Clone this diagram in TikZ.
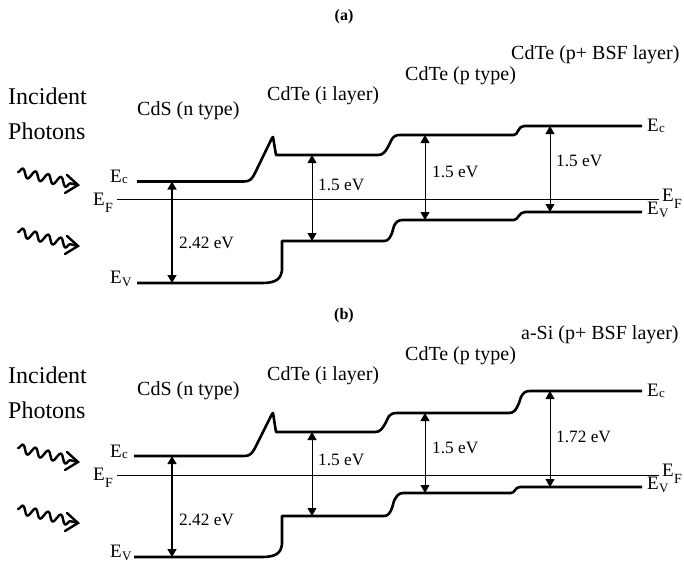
\documentclass[tikz,border=0pt]{standalone}
\usepackage{fontspec}
\setmainfont{Liberation Serif}
\usetikzlibrary{arrows.meta,decorations.pathmorphing,calc}
\newcommand{\Ec}{E\kern0.2pt\raisebox{-1.5pt}{\fontsize{13}{13}\selectfont c}}
\newcommand{\Ev}{E\kern0.2pt\raisebox{-3pt}{\fontsize{13}{13}\selectfont V}}
\newcommand{\Ef}{E\kern0.2pt\raisebox{-7pt}{\fontsize{14}{14}\selectfont F}}
\begin{document}
\begin{tikzpicture}[x=1pt,y=-1pt,
  band/.style={line width=2.6pt,line join=round},
  fermi/.style={line width=0.9pt},
  gap/.style={line width=0.9pt,{Triangle[length=8pt,width=9pt]}-{Triangle[length=8pt,width=9pt]}},
  gapthick/.style={gap,line width=1.3pt},
  wave/.style={line width=2.4pt,line cap=round,line join=round,decorate,decoration={snake,amplitude=4.5pt,segment length=13pt,post length=5pt}},
  head/.style={line width=2.4pt,line join=miter,line cap=round},
  big/.style={font=\fontsize{24}{26}\selectfont,inner sep=0pt,anchor=base west},
  lay/.style={font=\fontsize{20}{22}\selectfont,inner sep=0pt,anchor=base west},
  ev/.style={font=\fontsize{17.3}{19}\selectfont,inner sep=0pt,anchor=base west},
  elab/.style={font=\fontsize{19}{21}\selectfont,inner sep=0pt,anchor=base west},
  ttl/.style={font=\fontsize{16}{18}\selectfont\bfseries,inner sep=0pt,anchor=base}]
\useasboundingbox (0,0) rectangle (684,567);

% ================= (a) =================
\node[ttl] (ta) at (344,21) {(a)};
\node[big] (inc1a) at (8,104) {Incident};
\node[big] (inc2a) at (8,139) {Photons};
\node[lay] (la1) at (137,115) {CdS (n type)};
\node[lay] (la2) at (267,100) {CdTe (i layer)};
\node[lay] (la3) at (405,81) {CdTe (p type)};
\node[lay] (la4) at (511,60) {CdTe (p+ BSF layer)};

% wavy photons
\coordinate (wa1s) at (18,172); \coordinate (wa1e) at (78,185);
\coordinate (wa2s) at (18,232); \coordinate (wa2e) at (78,246);
\draw[wave] (wa1s) -- (wa1e);
\draw[head] ($(wa1e)+(-11,-10)$) -- (wa1e) -- ++(-13,8);
\draw[wave] (wa2s) -- (wa2e);
\draw[head] ($(wa2e)+(-11,-10)$) -- (wa2e) -- ++(-13,8);

% band edges
\draw[band] (137,181.5) -- (244,181.5) .. controls (250,181.5) and (252,179) .. (255,173) -- (272,138) -- (273,137) -- (276,155) -- (378,155)
  .. controls (383,155) and (385,152) .. (388,147) -- (392,139) .. controls (394,136) and (396,135) .. (400,135) -- (514,135)
  .. controls (518,135) and (518,126) .. (524,126) -- (642,126);
\draw[band] (137,283) -- (262,283) .. controls (276,283) and (281,279) .. (282,270) -- (282,241) -- (384,241)
  .. controls (388,241) and (390,238) .. (392,233) -- (394,226) .. controls (396,222) and (398,220) .. (403,220) -- (514,220)
  .. controls (518,220) and (519,212) .. (525,212) -- (642,212);
\draw[fermi] (117,199.5) -- (659,199.5);

% labels of levels
\node[elab] (eca1) at (110,182) {\Ec};
\node[elab] (efa1) at (93,205) {\Ef};
\node[elab] (eva1) at (110,283) {\Ev};
\node[elab] (eca2) at (647,131) {\Ec};
\node[elab] (efa2) at (662,201) {\Ef};
\node[elab] (eva2) at (647,214) {\Ev};

% gaps
\coordinate (ga1t) at (172,181.5); \coordinate (ga1b) at (172,283);
\coordinate (ga2t) at (312,155); \coordinate (ga2b) at (312,241);
\coordinate (ga3t) at (425,135); \coordinate (ga3b) at (425,220);
\coordinate (ga4t) at (550,126); \coordinate (ga4b) at (550,212);
\draw[gapthick] (ga1t) -- (ga1b);
\draw[gap] (ga2t) -- (ga2b);
\draw[gap] (ga3t) -- (ga3b);
\draw[gap] (ga4t) -- (ga4b);
\node[ev] (va1) at (179,248) {2.42 eV};
\node[ev] (va2) at (318,190) {1.5 eV};
\node[ev] (va3) at (432,177) {1.5 eV};
\node[ev] (va4) at (556,166) {1.5 eV};

% ================= (b) =================
\node[ttl] (tb) at (344,319) {(b)};
\node[big] (inc1b) at (8,383) {Incident};
\node[big] (inc2b) at (8,418) {Photons};
\node[lay] (lb1) at (137,395) {CdS (n type)};
\node[lay] (lb2) at (267,380) {CdTe (i layer)};
\node[lay] (lb3) at (405,360) {CdTe (p type)};
\node[lay] (lb4) at (521,339) {a-Si (p+ BSF layer)};

\coordinate (wb1s) at (18,448); \coordinate (wb1e) at (78,462);
\coordinate (wb2s) at (18,509); \coordinate (wb2e) at (78,523);
\draw[wave] (wb1s) -- (wb1e);
\draw[head] ($(wb1e)+(-11,-10)$) -- (wb1e) -- ++(-13,8);
\draw[wave] (wb2s) -- (wb2e);
\draw[head] ($(wb2e)+(-11,-10)$) -- (wb2e) -- ++(-13,8);

\draw[band] (134,456) -- (244,456) .. controls (250,456) and (252,453.5) .. (255,448) -- (272,414) -- (273,413) -- (276,432) -- (375,432)
  .. controls (380,432) and (382,429) .. (385,424) -- (389,416) .. controls (391,414) and (393,413) .. (397,413) -- (509,413)
  .. controls (514,413) and (516,410) .. (519,403) -- (521,397) .. controls (523,393) and (525,391) .. (530,391) -- (642,391);
\draw[band] (134,557) -- (262,557) .. controls (276,557) and (281,553) .. (282,544) -- (282,516) -- (384,516)
  .. controls (388,516) and (390,513) .. (392,508) -- (394,501) .. controls (396,497) and (398,493) .. (403,493) -- (511,493)
  .. controls (515,493) and (515,487) .. (520,487) -- (642,487);
\draw[fermi] (117,475) -- (659,475);

\node[elab] (ecb1) at (110,457) {\Ec};
\node[elab] (efb1) at (93,480) {\Ef};
\node[elab] (evb1) at (110,557) {\Ev};
\node[elab] (ecb2) at (647,396) {\Ec};
\node[elab] (efb2) at (662,476) {\Ef};
\node[elab] (evb2) at (647,489) {\Ev};

\coordinate (gb1t) at (172,456); \coordinate (gb1b) at (172,557);
\coordinate (gb2t) at (312,432); \coordinate (gb2b) at (312,516);
\coordinate (gb3t) at (425,413); \coordinate (gb3b) at (425,493);
\coordinate (gb4t) at (550,391); \coordinate (gb4b) at (550,487);
\draw[gapthick] (gb1t) -- (gb1b);
\draw[gap] (gb2t) -- (gb2b);
\draw[gap] (gb3t) -- (gb3b);
\draw[gap] (gb4t) -- (gb4b);
\node[ev] (vb1) at (179,525) {2.42 eV};
\node[ev] (vb2) at (318,465) {1.5 eV};
\node[ev] (vb3) at (432,453) {1.5 eV};
\node[ev] (vb4) at (556,442) {1.72 eV};
\end{tikzpicture}
\end{document}
